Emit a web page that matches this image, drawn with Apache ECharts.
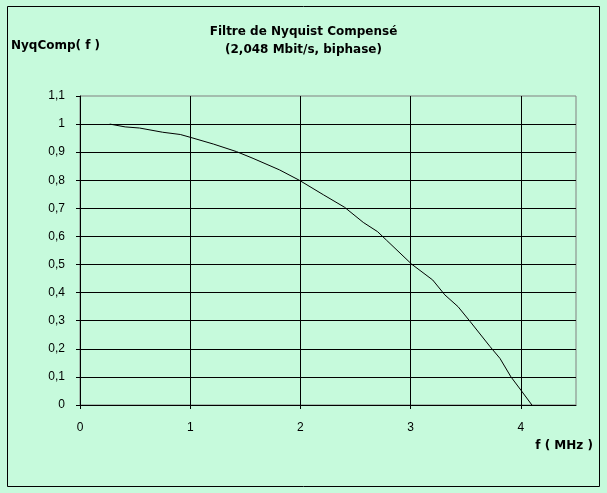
<!DOCTYPE html>
<html>
<head>
<meta charset="utf-8">
<script src="https://cdn.jsdelivr.net/npm/echarts@6/dist/echarts.min.js"></script>
<style>
  html, body { margin: 0; padding: 0; background: #c6fadc; }
  #chart { width: 607px; height: 493px; }
</style>
</head>
<body>
<div id="chart"></div>
<script>
// frequency (MHz) and compensated Nyquist filter response
const freq = [0.27, 0.41, 0.54, 0.75, 0.91, 1.0, 1.21, 1.42, 1.57, 1.81, 1.99, 2.21, 2.40, 2.57, 2.70, 2.78, 3.01, 3.20, 3.31, 3.43, 3.54, 3.72, 3.81, 3.91, 4.0, 4.10]
const nyqComp = [1.0, 0.99, 0.986, 0.971, 0.963, 0.953, 0.929, 0.902, 0.878, 0.837, 0.800, 0.748, 0.704, 0.650, 0.617, 0.587, 0.501, 0.445, 0.392, 0.350, 0.297, 0.208, 0.166, 0.100, 0.053, 0.0]
const xTicks = [0, 1, 2, 3, 4]
const titleLines = ['Filtre de Nyquist Compensé', '(2,048 Mbit/s, biphase)']

const font = '"Liberation Sans", Arial, sans-serif'
const boldFont = '"DejaVu Sans", Verdana, sans-serif'
const chart = echarts.init(document.getElementById('chart'))

const option = {
  backgroundColor: '#c6fadc',
  animation: false,
  title: {
    text: titleLines.join('\n'),
    left: 'center',
    top: 18,
    padding: [5, 12, 5, 5],
    textStyle: { fontFamily: boldFont, fontSize: 12, fontWeight: 'bold', color: '#000', lineHeight: 18 }
  },
  graphic: [{
    type: 'rect',
    shape: { x: 7.5, y: 6.5, width: 592, height: 480 },
    style: { fill: null, stroke: '#000', lineWidth: 1 },
    silent: true
  }],
  grid: {
    left: 80,
    right: 31,
    top: 96,
    bottom: 88,
    show: true,
    borderColor: '#808080',
    borderWidth: 1,
    backgroundColor: 'transparent',
    outerBoundsMode: 'none'
  },
  xAxis: {
    type: 'value',
    min: 0,
    max: 4.5,
    interval: 1,
    name: 'f ( MHz )',
    nameLocation: 'end',
    nameGap: 17,
    nameTextStyle: { fontFamily: boldFont, fontSize: 12, fontWeight: 'bold', color: '#000', align: 'right', verticalAlign: 'top', padding: [35, 0, 0, 0] },
    axisLine: { show: true, lineStyle: { color: '#000', width: 1 } },
    axisTick: { show: true, length: 4, lineStyle: { color: '#000' } },
    axisLabel: {
      margin: 17,
      showMaxLabel: false,
      fontFamily: font, fontSize: 12, color: '#000',
      formatter: v => (xTicks.indexOf(v) >= 0 ? String(v) : '')
    },
    splitLine: { show: true, showMinLine: false, showMaxLine: false, lineStyle: { color: '#000', width: 1 } }
  },
  yAxis: {
    type: 'value',
    min: 0,
    max: 1.1,
    interval: 0.1,
    name: 'NyqComp( f )',
    nameLocation: 'end',
    nameGap: 44,
    nameTextStyle: { fontFamily: boldFont, fontSize: 12, fontWeight: 'bold', color: '#000', align: 'center', padding: [0, 49, 0, 0] },
    axisLine: { show: true, lineStyle: { color: '#000', width: 1 } },
    axisTick: { show: true, length: 4, lineStyle: { color: '#000' } },
    axisLabel: {
      margin: 15,
      fontFamily: font, fontSize: 12, color: '#000',
      formatter: v => String(Math.round(v * 10) / 10).replace('.', ',')
    },
    splitLine: { show: true, showMinLine: false, showMaxLine: false, lineStyle: { color: '#000', width: 1 } }
  },
  series: [{
    name: 'NyqComp',
    type: 'line',
    data: freq.map((f, i) => [f, nyqComp[i]]),
    showSymbol: false,
    smooth: false,
    lineStyle: { color: '#000', width: 1 }
  }]
}
chart.setOption(option)
</script>
</body>
</html>
